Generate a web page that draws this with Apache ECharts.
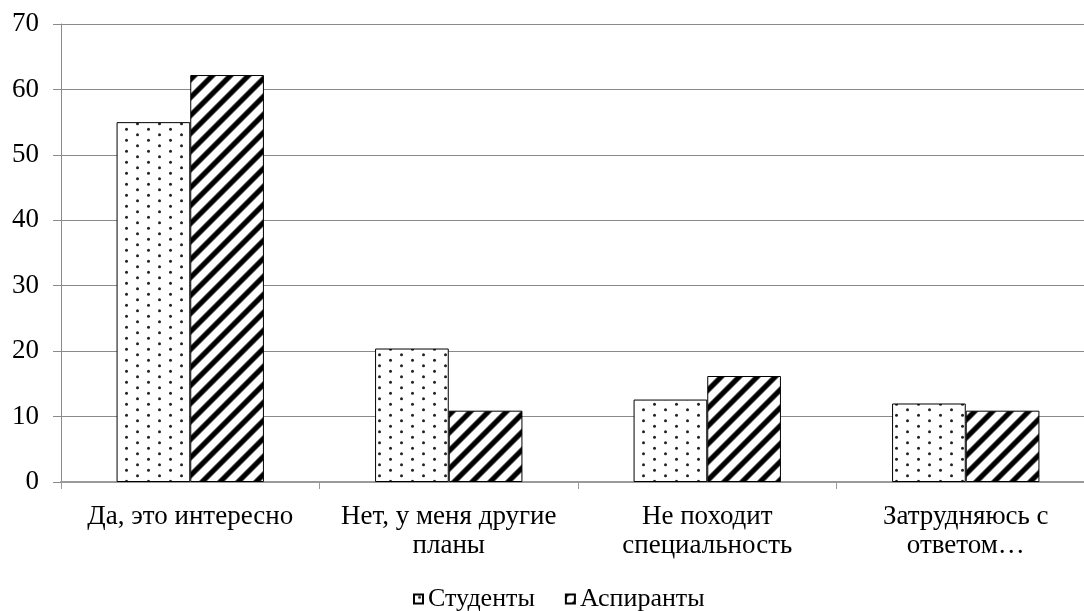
<!DOCTYPE html>
<html><head><meta charset="utf-8">
<script src="https://cdn.jsdelivr.net/npm/echarts@6/dist/echarts.min.js"></script>
<style>html,body{margin:0;padding:0;background:#fff}#c{width:1084px;height:611px}</style>
</head><body><div id="c"></div>
<script>
const categories = ['Да, это интересно', 'Нет, у меня другие\nпланы', 'Не походит\nспециальность', 'Затрудняюсь с\nответом…'];
const seriesNames = ['Студенты', 'Аспиранты'];
const students = [55.0, 20.4, 12.6, 12.0];
const postgrads = [62.2, 10.9, 16.2, 10.9];
const yMin = 0, yMax = 70, yStep = 10;

function dotPattern() {
  const c = document.createElement('canvas');
  c.width = 22; c.height = 11;
  const g = c.getContext('2d');
  g.fillStyle = '#fff'; g.fillRect(0, 0, 22, 11);
  g.fillStyle = '#222';
  [[5.5, 2.75], [16.5, 8.25]].forEach(p => { g.beginPath(); g.arc(p[0], p[1], 1.5, 0, Math.PI * 2); g.fill(); });
  return c;
}
function stripePattern() {
  const s = 18;
  const c = document.createElement('canvas');
  c.width = s; c.height = s;
  const g = c.getContext('2d');
  const img = g.createImageData(s, s);
  const half = 2.6, soft = 1.6;
  for (let y = 0; y < s; y++) for (let x = 0; x < s; x++) {
    let t = ((x + 0.5 + y + 0.5) % s) / s;
    const d = Math.min(t, 1 - t) * s / Math.SQRT2;
    let a = (d - half) / soft + 0.5;
    a = Math.max(0, Math.min(1, a));
    const v = Math.round(255 * a);
    const i = (y * s + x) * 4;
    img.data[i] = img.data[i + 1] = img.data[i + 2] = v; img.data[i + 3] = 255;
  }
  g.putImageData(img, 0, 0);
  return c;
}

const font = 'Liberation Serif';
const chart = echarts.init(document.getElementById('c'));
chart.setOption({
  animation: false,
  textStyle: { fontFamily: font, color: '#000' },
  grid: { left: 61, right: -11, top: 24, bottom: 129, containLabel: false, outerBoundsMode: 'none' },
  legend: {
    top: 581, left: 408, itemWidth: 9, itemHeight: 9, itemGap: 30,
    icon: 'rect',
    textStyle: { fontFamily: font, fontSize: 26, color: '#000' },
    data: seriesNames
  },
  xAxis: {
    type: 'category', data: categories,
    axisLine: { lineStyle: { color: '#9a9a9a', width: 2 } },
    axisTick: { show: true, length: 7, alignWithLabel: false, lineStyle: { color: '#9a9a9a', width: 1 } },
    axisLabel: { fontFamily: font, fontSize: 27, color: '#000', margin: 20, lineHeight: 29, interval: 0 }
  },
  yAxis: {
    type: 'value', min: yMin, max: yMax, interval: yStep,
    axisLine: { show: true, lineStyle: { color: '#8a8a8a', width: 1 } },
    axisTick: { show: true, length: 8, lineStyle: { color: '#8a8a8a' } },
    splitLine: { show: true, lineStyle: { color: '#8a8a8a', width: 1 } },
    axisLabel: { fontFamily: font, fontSize: 27, color: '#000', margin: 22 }
  },
  series: [
    { name: seriesNames[0], type: 'bar', data: students, barGap: '0%', barCategoryGap: '43%',
      itemStyle: { color: { image: dotPattern(), repeat: 'repeat' }, borderColor: '#000', borderWidth: 1 } },
    { name: seriesNames[1], type: 'bar', data: postgrads, barGap: '0%', barCategoryGap: '43%',
      itemStyle: { color: { image: stripePattern(), repeat: 'repeat' }, borderColor: '#000', borderWidth: 1 } }
  ]
});
</script></body></html>
